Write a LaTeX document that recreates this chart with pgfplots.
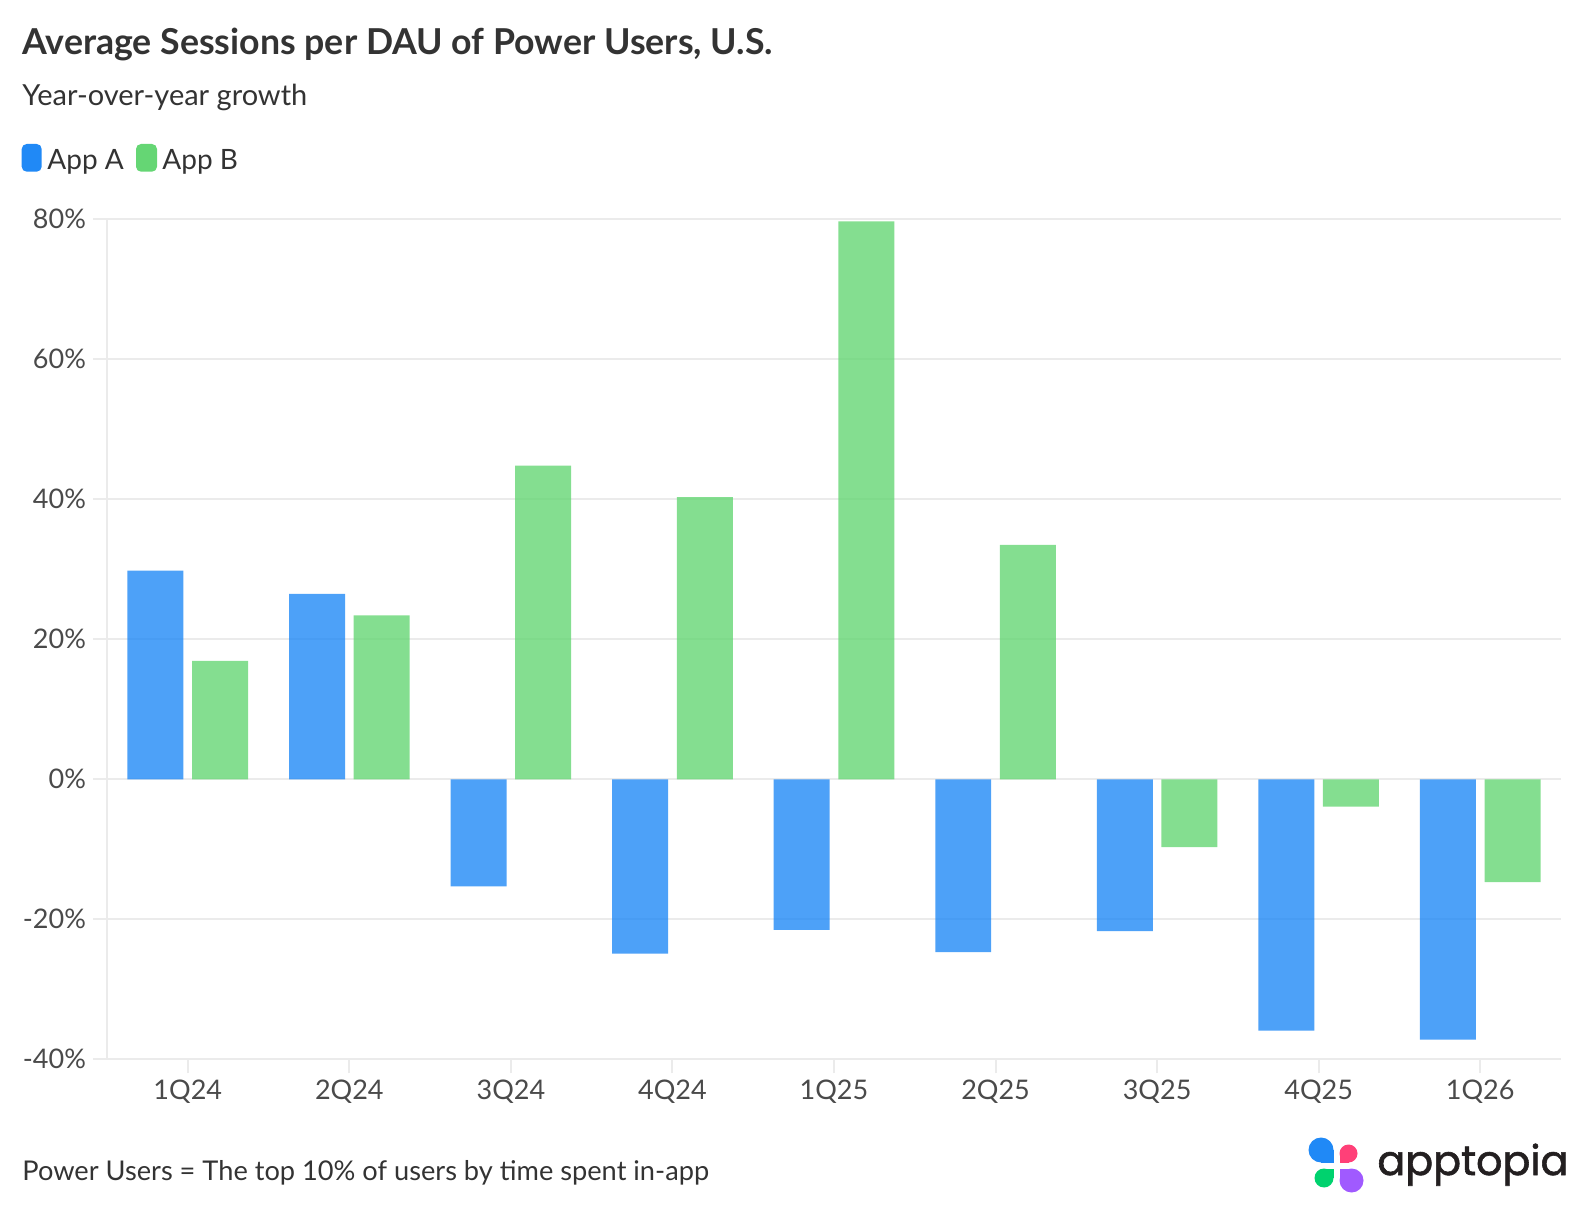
\documentclass[border=0pt]{standalone}
\usepackage{pgfplots}
\pgfplotsset{compat=1.18}
\usepackage{fontspec}
\setmainfont{Lato}
\newfontfamily\logofont[FakeBold=1.4]{Poppins}
\definecolor{appA}{RGB}{32,137,246}
\definecolor{appB}{RGB}{101,214,116}
\definecolor{gridgray}{RGB}{235,235,235}
\definecolor{tickgray}{RGB}{74,74,74}
\definecolor{titlegray}{RGB}{51,51,51}
\definecolor{logoblue}{RGB}{32,137,246}
\definecolor{logopink}{RGB}{255,64,120}
\definecolor{logogreen}{RGB}{0,210,110}
\definecolor{logopurple}{RGB}{160,90,255}
\definecolor{logotext}{RGB}{35,31,32}
\begin{document}
\begin{tikzpicture}
\useasboundingbox (0,0) rectangle (794pt,610pt);
% title block
\node[anchor=base west, inner sep=0pt, text=titlegray, font=\fontsize{17.85pt}{20pt}\selectfont\bfseries] at (11pt,582.5pt) {Average Sessions per DAU of Power Users, U.S.};
\node[anchor=base west, inner sep=0pt, text=titlegray, font=\fontsize{14.5pt}{17pt}\selectfont] at (11pt,557pt) {Year-over-year growth};
% legend
\fill[appA, rounded corners=2.5pt] (10.85pt,524.15pt) rectangle (20.85pt,538pt);
\node[anchor=base west, inner sep=0pt, text=titlegray, font=\fontsize{14pt}{17pt}\selectfont] at (23.5pt,525pt) {App A};
\fill[appB, rounded corners=2.5pt] (68pt,524.15pt) rectangle (78.5pt,538pt);
\node[anchor=base west, inner sep=0pt, text=titlegray, font=\fontsize{14pt}{17pt}\selectfont] at (81pt,525pt) {App B};
\begin{axis}[
  at={(53.5pt,80.35pt)}, anchor=south west,
  scale only axis, width=727pt, height=420pt,
  xmin=-0.5, xmax=8.5, ymin=-40, ymax=80,
  axis x line*=bottom, axis y line*=left,
  axis line style={draw=gridgray, line width=1pt, -},
  xtick={0,1,2,3,4,5,6,7,8},
  xticklabels={1Q24,2Q24,3Q24,4Q24,1Q25,2Q25,3Q25,4Q25,1Q26},
  ytick={-40,-20,0,20,40,60,80},
  yticklabels={-40\%,-20\%,0\%,20\%,40\%,60\%,80\%},
  tick align=outside, major tick length=7pt,
  tick style={draw=gridgray, line width=1pt},
  ymajorgrids, grid style={draw=gridgray, line width=1pt},
  tick label style={font=\fontsize{13.5pt}{16pt}\selectfont, text=tickgray},
  ybar, bar width=0.3466,
]
\addplot[draw=none, fill=appA, fill opacity=0.8, bar shift=-0.2] coordinates {
 (0,29.8) (1,26.5) (2,-15.3) (3,-24.9) (4,-21.5) (5,-24.7) (6,-21.7) (7,-35.9) (8,-37.2)};
\addplot[draw=none, fill=appB, fill opacity=0.8, bar shift=0.2] coordinates {
 (0,16.9) (1,23.4) (2,44.8) (3,40.3) (4,79.7) (5,33.5) (6,-9.7) (7,-3.9) (8,-14.7)};
\end{axis}
% footer
\node[anchor=base west, inner sep=0pt, text=titlegray, font=\fontsize{13.6pt}{16pt}\selectfont] at (11pt,20pt) {Power Users = The top 10\% of users by time spent in-app};
% logo
\fill[logoblue] (660.5pt,35pt) circle (6.25pt); \fill[logoblue] (660.5pt,28.75pt) rectangle (666.75pt,35pt);
\fill[logopink] (674.25pt,33.25pt) circle (4.5pt); \fill[logopink] (669.75pt,28.75pt) rectangle (674.25pt,33.25pt);
\fill[logogreen] (662pt,21pt) circle (4.75pt); \fill[logogreen] (662pt,21pt) rectangle (666.75pt,25.75pt);
\fill[logopurple] (675.75pt,19.75pt) circle (6pt); \fill[logopurple] (669.75pt,19.75pt) rectangle (675.75pt,25.75pt);
\node[anchor=base west, inner sep=0pt, text=logotext] at (688.5pt,22.5pt) {\resizebox{95.5pt}{!}{\logofont\fontsize{20pt}{24pt}\selectfont apptopia}};
\end{tikzpicture}
\end{document}
